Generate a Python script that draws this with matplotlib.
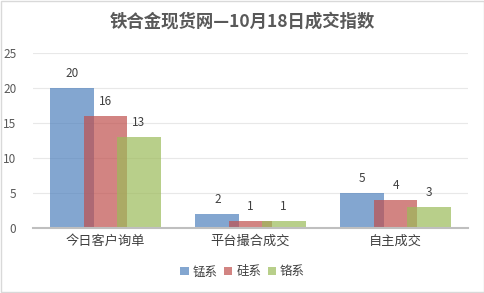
import numpy as np
import matplotlib.pyplot as plt

plt.rcParams['font.family'] = ['Noto Sans CJK SC', 'DejaVu Sans']

# === 数据 ===
categories = ['今日客户询单', '平台撮合成交', '自主成交']
series = ['锰系', '硅系', '铬系']
mn = [20, 2, 5]
si = [16, 1, 4]
cr = [13, 1, 3]
colors = ['#4F81BD', '#C0504D', '#9BBB59']

fig = plt.figure(figsize=(4.85, 2.93), dpi=100)
ax = fig.add_axes([0.068, 0.222, 0.897, 0.597])

x = np.arange(len(categories))
w = 0.303
step = 0.228
for i, (vals, name) in enumerate(zip([mn, si, cr], series)):
    bars = ax.bar(x + (i - 1) * step, vals, width=w, color=colors[i], alpha=0.7,
                  label=name, zorder=2 + i)
    for b, v in zip(bars, vals):
        ax.annotate(str(v), (b.get_x() + b.get_width() / 2, v), xytext=(0, 6),
                    textcoords='offset points', ha='center', va='bottom',
                    fontsize=8.5, color='#404040', zorder=10)

ax.set_xlim(-0.5, 2.5)
ax.set_ylim(0, 25)
ax.set_yticks(range(0, 26, 5))
ax.set_xticks(x)
ax.set_xticklabels(categories, fontsize=9.5, color='#404040')
ax.tick_params(axis='y', labelsize=8.5, labelcolor='#595959', length=0, pad=12)
ax.tick_params(axis='x', length=0, pad=5)
ax.grid(axis='y', color='#E8E8E8', lw=0.8, zorder=0)
for s in ['top', 'right', 'left']:
    ax.spines[s].set_visible(False)
ax.spines['bottom'].set_color('#BFBFBF')
ax.spines['bottom'].set_linewidth(1.5)
ax.spines['bottom'].set_zorder(10)

fig.text(0.5, 0.925, '铁合金现货网—10月18日成交指数', ha='center', va='center',
         fontsize=12.5, fontweight='bold', color='#595959')

fig.legend(loc='center', bbox_to_anchor=(0.5, 0.072), ncol=3, frameon=False,
           fontsize=9, handlelength=0.7, handleheight=0.7, handletextpad=0.3,
           columnspacing=0.5, labelcolor='#404040')

fig.patches.append(plt.Rectangle((0.003, 0.003), 0.994, 0.994, transform=fig.transFigure,
                                 fill=False, edgecolor='#D9D9D9', lw=1))

plt.savefig('out.png', dpi=100)
